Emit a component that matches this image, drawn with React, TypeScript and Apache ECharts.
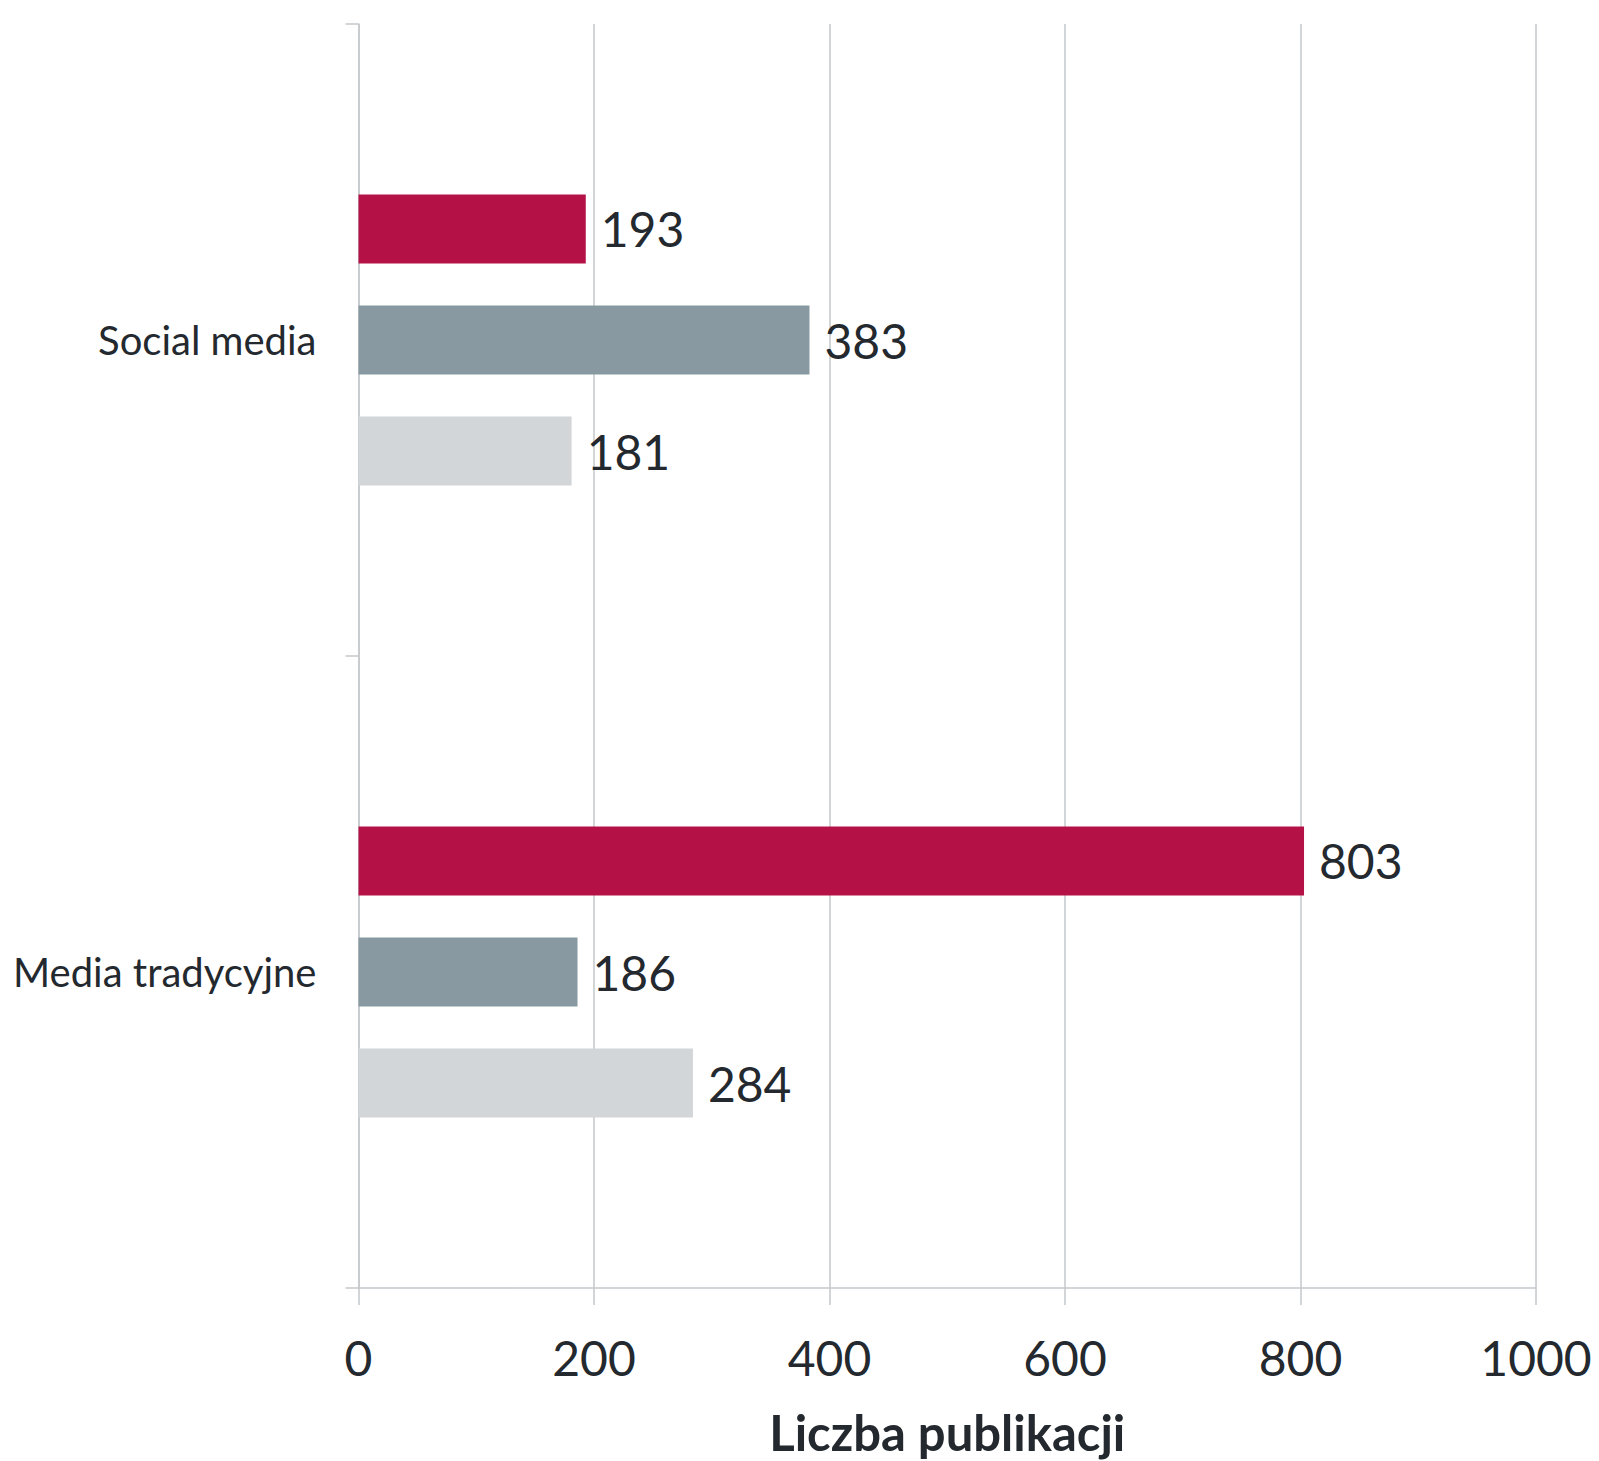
import React, { useEffect, useRef } from "react";
import * as echarts from "echarts";

const categories = ["Social media", "Media tradycyjne"];
const seriesRed = [193, 803];
const seriesGray = [383, 186];
const seriesLight = [181, 284];
const xTicks = [0, 200, 400, 600, 800, 1000];
const xAxisTitle = "Liczba publikacji";

const FONT = "Lato";
const TEXT = "#23292e";

export default function App() {
  const ref = useRef<HTMLDivElement>(null);
  useEffect(() => {
    const chart = echarts.init(ref.current!, null, { renderer: "svg" });
    const label = {
      show: true,
      position: "right",
      distance: 15,
      fontFamily: FONT,
      fontSize: 48,
      color: TEXT,
    };
    const mk = (data: number[], color: string) => ({
      type: "bar",
      data,
      barWidth: 69,
      barGap: "61%",
      itemStyle: { color },
      label,
    });
    chart.setOption({
      animation: false,
      backgroundColor: "#ffffff",
      grid: { left: 358.5, right: 63, top: 24, bottom: 166, containLabel: false },
      xAxis: {
        type: "value",
        min: xTicks[0],
        max: xTicks[xTicks.length - 1],
        interval: 200,
        name: xAxisTitle,
        nameLocation: "middle",
        nameGap: 119,
        nameTextStyle: { fontFamily: FONT, fontSize: 49, fontWeight: "bold", color: TEXT },
        axisLine: { show: true, lineStyle: { color: "#c4c8cb", width: 1.5 } },
        axisTick: { show: true, length: 17, lineStyle: { color: "#c4c8cb", width: 1.5 } },
        axisLabel: {
          fontFamily: FONT,
          fontSize: 48,
          color: TEXT,
          margin: 45,
          formatter: (v: number) => String(v),
        },
        splitLine: { show: true, lineStyle: { color: "#c4c8cb", width: 1.5 } },
      },
      yAxis: {
        type: "category",
        data: categories,
        inverse: true,
        axisLine: { show: true, lineStyle: { color: "#c4c8cb", width: 1.5 } },
        axisTick: { show: true, length: 13, lineStyle: { color: "#c4c8cb", width: 1.5 } },
        axisLabel: { fontFamily: FONT, fontSize: 40, color: TEXT, margin: 42 },
        splitLine: { show: false },
      },
      series: [
        mk(seriesRed, "#b41146"),
        mk(seriesGray, "#8899a2"),
        mk(seriesLight, "#d2d6d9"),
      ],
    });
    return () => chart.dispose();
  }, []);
  return (
    <div
      ref={ref}
      style={{ position: "absolute", left: 0, top: 0, width: 1599, height: 1461 }}
    />
  );
}
